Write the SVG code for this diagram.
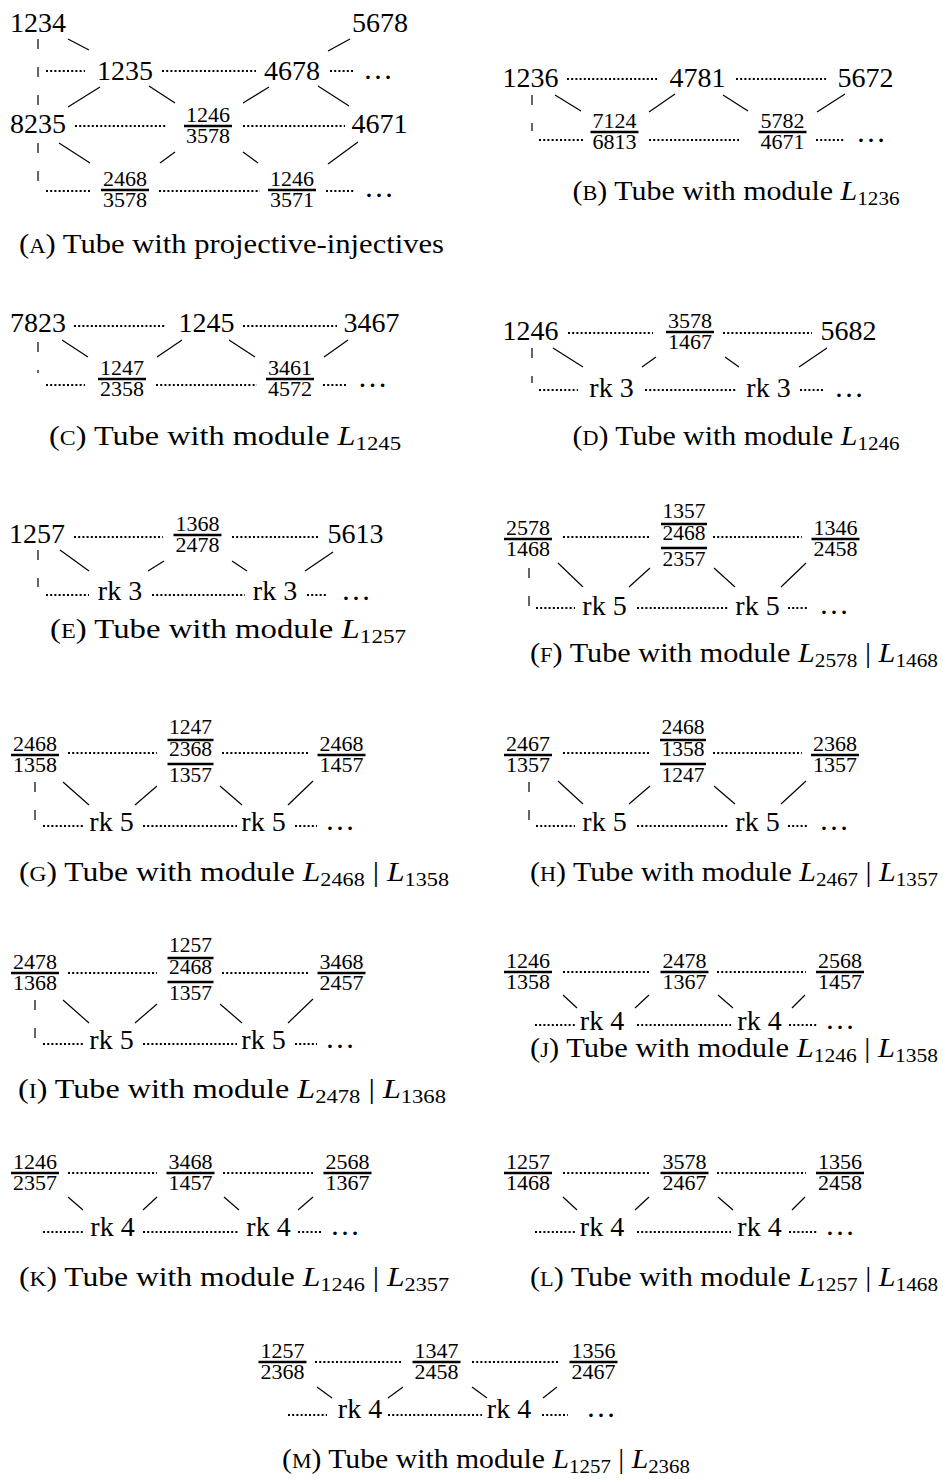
<svg xmlns="http://www.w3.org/2000/svg" width="943" height="1479" viewBox="0 0 943 1479">
<style>
text{font-family:"Liberation Serif","Times New Roman",serif;fill:#000;text-anchor:middle}
.t{font-size:28px}
.f{font-size:20px}
.d{font-size:30px}
.cap{font-size:27px}
.sc{font-size:20px}
.it{font-style:italic}
.sub{font-size:19px}
line{stroke:#000;fill:none}
.bar{stroke-width:2.4}
.dot{stroke-width:2;stroke-dasharray:2 2.2}
.dash{stroke-width:1.2;stroke-dasharray:10 18}
.sol{stroke-width:1.2}
</style>
<rect width="943" height="1479" fill="#fff"/>

<!-- (A) -->
<g id="A">
<g id="A-1234"><text class="t" x="38" y="32">1234</text></g>
<g id="A-5678"><text class="t" x="380" y="32">5678</text></g>
<g id="A-1235"><text class="t" x="125" y="80">1235</text></g>
<g id="A-4678"><text class="t" x="292" y="80">4678</text></g>
<g id="A-dots1"><text class="d" x="378" y="79">…</text></g>
<g id="A-8235"><text class="t" x="38" y="133">8235</text></g>
<g id="A-1246-3578"><text class="f" x="208" y="122" textLength="44" lengthAdjust="spacingAndGlyphs">1246</text><line class="bar" x1="184" y1="126" x2="232" y2="126"/><text class="f" x="208" y="143" textLength="44" lengthAdjust="spacingAndGlyphs">3578</text></g>
<g id="A-4671"><text class="t" x="379.5" y="133">4671</text></g>
<g id="A-2468-3578"><text class="f" x="125" y="186" textLength="44" lengthAdjust="spacingAndGlyphs">2468</text><line class="bar" x1="101" y1="190" x2="149" y2="190"/><text class="f" x="125" y="207" textLength="44" lengthAdjust="spacingAndGlyphs">3578</text></g>
<g id="A-1246-3571"><text class="f" x="292" y="186" textLength="44" lengthAdjust="spacingAndGlyphs">1246</text><line class="bar" x1="268" y1="190" x2="316" y2="190"/><text class="f" x="292" y="207" textLength="44" lengthAdjust="spacingAndGlyphs">3571</text></g>
<g id="A-dots2"><text class="d" x="379" y="197">…</text></g>
<text class="cap" x="231.5" y="253" textLength="425" lengthAdjust="spacingAndGlyphs">(<tspan class="sc">A</tspan>) Tube with projective-injectives</text>
</g>

<!-- (B) -->
<g id="B">
<g id="B-1236"><text class="t" x="530.5" y="87">1236</text></g>
<g id="B-4781"><text class="t" x="697.5" y="87">4781</text></g>
<g id="B-5672"><text class="t" x="865.5" y="87">5672</text></g>
<g id="B-7124-6813"><text class="f" x="614.5" y="128" textLength="44" lengthAdjust="spacingAndGlyphs">7124</text><line class="bar" x1="590.5" y1="132" x2="638.5" y2="132"/><text class="f" x="614.5" y="149" textLength="44" lengthAdjust="spacingAndGlyphs">6813</text></g>
<g id="B-5782-4671"><text class="f" x="782.5" y="128" textLength="44" lengthAdjust="spacingAndGlyphs">5782</text><line class="bar" x1="758.5" y1="132" x2="806.5" y2="132"/><text class="f" x="782.5" y="149" textLength="44" lengthAdjust="spacingAndGlyphs">4671</text></g>
<g id="B-dots"><text class="d" x="871" y="142">…</text></g>
<text class="cap" x="736" y="200" textLength="327" lengthAdjust="spacingAndGlyphs">(<tspan class="sc">B</tspan>) Tube with module <tspan class="it">L</tspan><tspan class="sub" dy="5">1236</tspan></text>
</g>

<!-- (C) -->
<g id="C">
<g id="C-7823"><text class="t" x="38" y="332">7823</text></g>
<g id="C-1245"><text class="t" x="206.5" y="332">1245</text></g>
<g id="C-3467"><text class="t" x="371.5" y="332">3467</text></g>
<g id="C-1247-2358"><text class="f" x="122" y="375" textLength="44" lengthAdjust="spacingAndGlyphs">1247</text><line class="bar" x1="98" y1="379" x2="146" y2="379"/><text class="f" x="122" y="396" textLength="44" lengthAdjust="spacingAndGlyphs">2358</text></g>
<g id="C-3461-4572"><text class="f" x="290" y="375" textLength="44" lengthAdjust="spacingAndGlyphs">3461</text><line class="bar" x1="266" y1="379" x2="314" y2="379"/><text class="f" x="290" y="396" textLength="44" lengthAdjust="spacingAndGlyphs">4572</text></g>
<g id="C-dots"><text class="d" x="372.5" y="387">…</text></g>
<text class="cap" x="225" y="445" textLength="352" lengthAdjust="spacingAndGlyphs">(<tspan class="sc">C</tspan>) Tube with module <tspan class="it">L</tspan><tspan class="sub" dy="5">1245</tspan></text>
</g>

<!-- (D) -->
<g id="D">
<g id="D-1246"><text class="t" x="530.5" y="340">1246</text></g>
<g id="D-3578-1467"><text class="f" x="690" y="328" textLength="44" lengthAdjust="spacingAndGlyphs">3578</text><line class="bar" x1="666" y1="332" x2="714" y2="332"/><text class="f" x="690" y="349" textLength="44" lengthAdjust="spacingAndGlyphs">1467</text></g>
<g id="D-5682"><text class="t" x="848.5" y="340">5682</text></g>
<g id="D-rk3a"><text class="t" x="611.5" y="397">rk 3</text></g>
<g id="D-rk3b"><text class="t" x="768.5" y="397">rk 3</text></g>
<g id="D-dots"><text class="d" x="849" y="397">…</text></g>
<text class="cap" x="736" y="445" textLength="327" lengthAdjust="spacingAndGlyphs">(<tspan class="sc">D</tspan>) Tube with module <tspan class="it">L</tspan><tspan class="sub" dy="5">1246</tspan></text>
</g>

<!-- (E) -->
<g id="E">
<g id="E-1257"><text class="t" x="37" y="543">1257</text></g>
<g id="E-1368-2478"><text class="f" x="197.5" y="531" textLength="44" lengthAdjust="spacingAndGlyphs">1368</text><line class="bar" x1="173.5" y1="535" x2="221.5" y2="535"/><text class="f" x="197.5" y="552" textLength="44" lengthAdjust="spacingAndGlyphs">2478</text></g>
<g id="E-5613"><text class="t" x="355.5" y="543">5613</text></g>
<g id="E-rk3a"><text class="t" x="120" y="600">rk 3</text></g>
<g id="E-rk3b"><text class="t" x="275" y="600">rk 3</text></g>
<g id="E-dots"><text class="d" x="356" y="600">…</text></g>
<text class="cap" x="228" y="638" textLength="356" lengthAdjust="spacingAndGlyphs">(<tspan class="sc">E</tspan>) Tube with module <tspan class="it">L</tspan><tspan class="sub" dy="5">1257</tspan></text>
</g>

<!-- (F) -->
<g id="F">
<g id="F-2578-1468"><text class="f" x="528" y="535" textLength="44" lengthAdjust="spacingAndGlyphs">2578</text><line class="bar" x1="504" y1="539" x2="552" y2="539"/><text class="f" x="528" y="556" textLength="44" lengthAdjust="spacingAndGlyphs">1468</text></g>
<g id="F-1357-2468-2357"><text class="f" x="684" y="518" textLength="43" lengthAdjust="spacingAndGlyphs">1357</text><line class="bar" x1="661" y1="524" x2="707" y2="524"/><text class="f" x="684" y="540" textLength="43" lengthAdjust="spacingAndGlyphs">2468</text><line class="bar" x1="661" y1="548" x2="707" y2="548"/><text class="f" x="684" y="566" textLength="43" lengthAdjust="spacingAndGlyphs">2357</text></g>
<g id="F-1346-2458"><text class="f" x="835.5" y="535" textLength="44" lengthAdjust="spacingAndGlyphs">1346</text><line class="bar" x1="811.5" y1="539" x2="859.5" y2="539"/><text class="f" x="835.5" y="556" textLength="44" lengthAdjust="spacingAndGlyphs">2458</text></g>
<g id="F-rk5a"><text class="t" x="604.5" y="615">rk 5</text></g>
<g id="F-rk5b"><text class="t" x="757.5" y="615">rk 5</text></g>
<g id="F-dots"><text class="d" x="834" y="614">…</text></g>
<text class="cap" x="734" y="662" textLength="408" lengthAdjust="spacingAndGlyphs">(<tspan class="sc">F</tspan>) Tube with module <tspan class="it">L</tspan><tspan class="sub" dy="5">2578</tspan><tspan dy="-5"> | </tspan><tspan class="it">L</tspan><tspan class="sub" dy="5">1468</tspan></text>
</g>

<!-- (G) -->
<g id="G">
<g id="G-2468-1358"><text class="f" x="35" y="751" textLength="44" lengthAdjust="spacingAndGlyphs">2468</text><line class="bar" x1="11" y1="755" x2="59" y2="755"/><text class="f" x="35" y="772" textLength="44" lengthAdjust="spacingAndGlyphs">1358</text></g>
<g id="G-1247-2368-1357"><text class="f" x="190.5" y="734" textLength="43" lengthAdjust="spacingAndGlyphs">1247</text><line class="bar" x1="167.5" y1="740" x2="213.5" y2="740"/><text class="f" x="190.5" y="756" textLength="43" lengthAdjust="spacingAndGlyphs">2368</text><line class="bar" x1="167.5" y1="764" x2="213.5" y2="764"/><text class="f" x="190.5" y="782" textLength="43" lengthAdjust="spacingAndGlyphs">1357</text></g>
<g id="G-2468-1457"><text class="f" x="341.5" y="751" textLength="44" lengthAdjust="spacingAndGlyphs">2468</text><line class="bar" x1="317.5" y1="755" x2="365.5" y2="755"/><text class="f" x="341.5" y="772" textLength="44" lengthAdjust="spacingAndGlyphs">1457</text></g>
<g id="G-rk5a"><text class="t" x="111.5" y="831">rk 5</text></g>
<g id="G-rk5b"><text class="t" x="263.5" y="831">rk 5</text></g>
<g id="G-dots"><text class="d" x="340" y="830">…</text></g>
<text class="cap" x="234" y="881" textLength="430" lengthAdjust="spacingAndGlyphs">(<tspan class="sc">G</tspan>) Tube with module <tspan class="it">L</tspan><tspan class="sub" dy="5">2468</tspan><tspan dy="-5"> | </tspan><tspan class="it">L</tspan><tspan class="sub" dy="5">1358</tspan></text>
</g>

<!-- (H) -->
<g id="H">
<g id="H-2467-1357"><text class="f" x="528" y="751" textLength="44" lengthAdjust="spacingAndGlyphs">2467</text><line class="bar" x1="504" y1="755" x2="552" y2="755"/><text class="f" x="528" y="772" textLength="44" lengthAdjust="spacingAndGlyphs">1357</text></g>
<g id="H-2468-1358-1247"><text class="f" x="683" y="734" textLength="43" lengthAdjust="spacingAndGlyphs">2468</text><line class="bar" x1="660" y1="740" x2="706" y2="740"/><text class="f" x="683" y="756" textLength="43" lengthAdjust="spacingAndGlyphs">1358</text><line class="bar" x1="660" y1="764" x2="706" y2="764"/><text class="f" x="683" y="782" textLength="43" lengthAdjust="spacingAndGlyphs">1247</text></g>
<g id="H-2368-1357"><text class="f" x="835" y="751" textLength="44" lengthAdjust="spacingAndGlyphs">2368</text><line class="bar" x1="811" y1="755" x2="859" y2="755"/><text class="f" x="835" y="772" textLength="44" lengthAdjust="spacingAndGlyphs">1357</text></g>
<g id="H-rk5a"><text class="t" x="604.5" y="831">rk 5</text></g>
<g id="H-rk5b"><text class="t" x="757.5" y="831">rk 5</text></g>
<g id="H-dots"><text class="d" x="834" y="830">…</text></g>
<text class="cap" x="734" y="881" textLength="408" lengthAdjust="spacingAndGlyphs">(<tspan class="sc">H</tspan>) Tube with module <tspan class="it">L</tspan><tspan class="sub" dy="5">2467</tspan><tspan dy="-5"> | </tspan><tspan class="it">L</tspan><tspan class="sub" dy="5">1357</tspan></text>
</g>

<!-- (I) -->
<g id="I">
<g id="I-2478-1368"><text class="f" x="35" y="969" textLength="44" lengthAdjust="spacingAndGlyphs">2478</text><line class="bar" x1="11" y1="973" x2="59" y2="973"/><text class="f" x="35" y="990" textLength="44" lengthAdjust="spacingAndGlyphs">1368</text></g>
<g id="I-1257-2468-1357"><text class="f" x="190.5" y="952" textLength="43" lengthAdjust="spacingAndGlyphs">1257</text><line class="bar" x1="167.5" y1="958" x2="213.5" y2="958"/><text class="f" x="190.5" y="974" textLength="43" lengthAdjust="spacingAndGlyphs">2468</text><line class="bar" x1="167.5" y1="982" x2="213.5" y2="982"/><text class="f" x="190.5" y="1000" textLength="43" lengthAdjust="spacingAndGlyphs">1357</text></g>
<g id="I-3468-2457"><text class="f" x="341.5" y="969" textLength="44" lengthAdjust="spacingAndGlyphs">3468</text><line class="bar" x1="317.5" y1="973" x2="365.5" y2="973"/><text class="f" x="341.5" y="990" textLength="44" lengthAdjust="spacingAndGlyphs">2457</text></g>
<g id="I-rk5a"><text class="t" x="111.5" y="1049">rk 5</text></g>
<g id="I-rk5b"><text class="t" x="263.5" y="1049">rk 5</text></g>
<g id="I-dots"><text class="d" x="340" y="1048">…</text></g>
<text class="cap" x="232" y="1098" textLength="428" lengthAdjust="spacingAndGlyphs">(<tspan class="sc">I</tspan>) Tube with module <tspan class="it">L</tspan><tspan class="sub" dy="5">2478</tspan><tspan dy="-5"> | </tspan><tspan class="it">L</tspan><tspan class="sub" dy="5">1368</tspan></text>
</g>

<!-- (J) -->
<g id="J">
<g id="J-1246-1358"><text class="f" x="528" y="968" textLength="44" lengthAdjust="spacingAndGlyphs">1246</text><line class="bar" x1="504" y1="972" x2="552" y2="972"/><text class="f" x="528" y="989" textLength="44" lengthAdjust="spacingAndGlyphs">1358</text></g>
<g id="J-2478-1367"><text class="f" x="684.5" y="968" textLength="44" lengthAdjust="spacingAndGlyphs">2478</text><line class="bar" x1="660.5" y1="972" x2="708.5" y2="972"/><text class="f" x="684.5" y="989" textLength="44" lengthAdjust="spacingAndGlyphs">1367</text></g>
<g id="J-2568-1457"><text class="f" x="840" y="968" textLength="44" lengthAdjust="spacingAndGlyphs">2568</text><line class="bar" x1="816" y1="972" x2="864" y2="972"/><text class="f" x="840" y="989" textLength="44" lengthAdjust="spacingAndGlyphs">1457</text></g>
<g id="J-rk4a"><text class="t" x="602" y="1030">rk 4</text></g>
<g id="J-rk4b"><text class="t" x="759.5" y="1030">rk 4</text></g>
<g id="J-dots"><text class="d" x="840" y="1029">…</text></g>
<text class="cap" x="734" y="1057" textLength="408" lengthAdjust="spacingAndGlyphs">(<tspan class="sc">J</tspan>) Tube with module <tspan class="it">L</tspan><tspan class="sub" dy="5">1246</tspan><tspan dy="-5"> | </tspan><tspan class="it">L</tspan><tspan class="sub" dy="5">1358</tspan></text>
</g>

<!-- (K) -->
<g id="K">
<g id="K-1246-2357"><text class="f" x="35" y="1169" textLength="44" lengthAdjust="spacingAndGlyphs">1246</text><line class="bar" x1="11" y1="1173" x2="59" y2="1173"/><text class="f" x="35" y="1190" textLength="44" lengthAdjust="spacingAndGlyphs">2357</text></g>
<g id="K-3468-1457"><text class="f" x="190.5" y="1169" textLength="44" lengthAdjust="spacingAndGlyphs">3468</text><line class="bar" x1="166.5" y1="1173" x2="214.5" y2="1173"/><text class="f" x="190.5" y="1190" textLength="44" lengthAdjust="spacingAndGlyphs">1457</text></g>
<g id="K-2568-1367"><text class="f" x="347.5" y="1169" textLength="44" lengthAdjust="spacingAndGlyphs">2568</text><line class="bar" x1="323.5" y1="1173" x2="371.5" y2="1173"/><text class="f" x="347.5" y="1190" textLength="44" lengthAdjust="spacingAndGlyphs">1367</text></g>
<g id="K-rk4a"><text class="t" x="112.5" y="1236">rk 4</text></g>
<g id="K-rk4b"><text class="t" x="268.5" y="1236">rk 4</text></g>
<g id="K-dots"><text class="d" x="345" y="1235">…</text></g>
<text class="cap" x="234" y="1286" textLength="430" lengthAdjust="spacingAndGlyphs">(<tspan class="sc">K</tspan>) Tube with module <tspan class="it">L</tspan><tspan class="sub" dy="5">1246</tspan><tspan dy="-5"> | </tspan><tspan class="it">L</tspan><tspan class="sub" dy="5">2357</tspan></text>
</g>

<!-- (L) -->
<g id="L">
<g id="L-1257-1468"><text class="f" x="528" y="1169" textLength="44" lengthAdjust="spacingAndGlyphs">1257</text><line class="bar" x1="504" y1="1173" x2="552" y2="1173"/><text class="f" x="528" y="1190" textLength="44" lengthAdjust="spacingAndGlyphs">1468</text></g>
<g id="L-3578-2467"><text class="f" x="684.5" y="1169" textLength="44" lengthAdjust="spacingAndGlyphs">3578</text><line class="bar" x1="660.5" y1="1173" x2="708.5" y2="1173"/><text class="f" x="684.5" y="1190" textLength="44" lengthAdjust="spacingAndGlyphs">2467</text></g>
<g id="L-1356-2458"><text class="f" x="840" y="1169" textLength="44" lengthAdjust="spacingAndGlyphs">1356</text><line class="bar" x1="816" y1="1173" x2="864" y2="1173"/><text class="f" x="840" y="1190" textLength="44" lengthAdjust="spacingAndGlyphs">2458</text></g>
<g id="L-rk4a"><text class="t" x="602" y="1236">rk 4</text></g>
<g id="L-rk4b"><text class="t" x="759.5" y="1236">rk 4</text></g>
<g id="L-dots"><text class="d" x="840" y="1235">…</text></g>
<text class="cap" x="734" y="1286" textLength="408" lengthAdjust="spacingAndGlyphs">(<tspan class="sc">L</tspan>) Tube with module <tspan class="it">L</tspan><tspan class="sub" dy="5">1257</tspan><tspan dy="-5"> | </tspan><tspan class="it">L</tspan><tspan class="sub" dy="5">1468</tspan></text>
</g>

<!-- (M) -->
<g id="M">
<g id="M-1257-2368"><text class="f" x="282.5" y="1358" textLength="44" lengthAdjust="spacingAndGlyphs">1257</text><line class="bar" x1="258.5" y1="1362" x2="306.5" y2="1362"/><text class="f" x="282.5" y="1379" textLength="44" lengthAdjust="spacingAndGlyphs">2368</text></g>
<g id="M-1347-2458"><text class="f" x="436.5" y="1358" textLength="44" lengthAdjust="spacingAndGlyphs">1347</text><line class="bar" x1="412.5" y1="1362" x2="460.5" y2="1362"/><text class="f" x="436.5" y="1379" textLength="44" lengthAdjust="spacingAndGlyphs">2458</text></g>
<g id="M-1356-2467"><text class="f" x="593.5" y="1358" textLength="44" lengthAdjust="spacingAndGlyphs">1356</text><line class="bar" x1="569.5" y1="1362" x2="617.5" y2="1362"/><text class="f" x="593.5" y="1379" textLength="44" lengthAdjust="spacingAndGlyphs">2467</text></g>
<g id="M-rk4a"><text class="t" x="360" y="1418">rk 4</text></g>
<g id="M-rk4b"><text class="t" x="509" y="1418">rk 4</text></g>
<g id="M-dots"><text class="d" x="601" y="1417">…</text></g>
<text class="cap" x="486" y="1468" textLength="408" lengthAdjust="spacingAndGlyphs">(<tspan class="sc">M</tspan>) Tube with module <tspan class="it">L</tspan><tspan class="sub" dy="5">1257</tspan><tspan dy="-5"> | </tspan><tspan class="it">L</tspan><tspan class="sub" dy="5">2368</tspan></text>
</g>

<!-- connectors -->
<g id="connectors">
<!-- A -->
<line class="dot" x1="46" y1="71" x2="85" y2="71"/><line class="dot" x1="162" y1="71" x2="256" y2="71"/><line class="dot" x1="330" y1="71" x2="355" y2="71"/>
<line class="dot" x1="75" y1="126" x2="167" y2="126"/><line class="dot" x1="243" y1="126" x2="345" y2="126"/>
<line class="dot" x1="46" y1="191" x2="92" y2="191"/><line class="dot" x1="159" y1="191" x2="260" y2="191"/><line class="dot" x1="326" y1="191" x2="355" y2="191"/>
<line class="dash" x1="38" y1="39" x2="38" y2="107"/><line class="dash" x1="38" y1="143" x2="38" y2="186"/>
<line class="sol" x1="68" y1="39" x2="89" y2="50"/><line class="sol" x1="350" y1="39" x2="328" y2="51"/>
<line class="sol" x1="100" y1="87" x2="68" y2="107"/><line class="sol" x1="149" y1="86" x2="175" y2="103"/>
<line class="sol" x1="269" y1="87" x2="243" y2="103"/><line class="sol" x1="318" y1="86" x2="349" y2="106"/>
<line class="sol" x1="59" y1="143" x2="90" y2="163"/><line class="sol" x1="175" y1="152" x2="160" y2="163"/>
<line class="sol" x1="243" y1="152" x2="258" y2="163"/><line class="sol" x1="358" y1="142" x2="328" y2="164"/>
<!-- B -->
<line class="dot" x1="567" y1="79" x2="657" y2="79"/><line class="dot" x1="736" y1="79" x2="826" y2="79"/>
<line class="dot" x1="539" y1="140" x2="583" y2="140"/><line class="dot" x1="649" y1="140" x2="739" y2="140"/><line class="dot" x1="816" y1="140" x2="845" y2="140"/>
<line class="dash" x1="532" y1="95" x2="532" y2="131"/>
<line class="sol" x1="555" y1="95" x2="581" y2="111"/><line class="sol" x1="675" y1="94" x2="649" y2="112"/>
<line class="sol" x1="723" y1="95" x2="748" y2="111"/><line class="sol" x1="845" y1="94" x2="817" y2="112"/>
<!-- C -->
<line class="dot" x1="74" y1="326" x2="165" y2="326"/><line class="dot" x1="243" y1="326" x2="337" y2="326"/>
<line class="dot" x1="46" y1="385" x2="85" y2="385"/><line class="dot" x1="156" y1="385" x2="257" y2="385"/><line class="dot" x1="323" y1="385" x2="347" y2="385"/>
<line class="dash" x1="38" y1="342" x2="38" y2="373"/>
<line class="sol" x1="62" y1="340" x2="88" y2="357"/><line class="sol" x1="182" y1="340" x2="157" y2="357"/>
<line class="sol" x1="229" y1="340" x2="255" y2="357"/><line class="sol" x1="348" y1="340" x2="324" y2="357"/>
<!-- D -->
<line class="dot" x1="568" y1="333" x2="653" y2="333"/><line class="dot" x1="723" y1="333" x2="812" y2="333"/>
<line class="dot" x1="539" y1="390" x2="578" y2="390"/><line class="dot" x1="645" y1="390" x2="737" y2="390"/><line class="dot" x1="800" y1="390" x2="825" y2="390"/>
<line class="dash" x1="532" y1="348" x2="532" y2="383"/>
<line class="sol" x1="553" y1="348" x2="583" y2="367"/><line class="sol" x1="656" y1="357" x2="642" y2="367"/>
<line class="sol" x1="725" y1="357" x2="739" y2="367"/><line class="sol" x1="827" y1="348" x2="799" y2="367"/>
<!-- E -->
<line class="dot" x1="74" y1="537" x2="163" y2="537"/><line class="dot" x1="232" y1="537" x2="318" y2="537"/>
<line class="dot" x1="46" y1="595" x2="89" y2="595"/><line class="dot" x1="152" y1="595" x2="245" y2="595"/><line class="dot" x1="307" y1="595" x2="328" y2="595"/>
<line class="dash" x1="38" y1="550" x2="38" y2="587"/>
<line class="sol" x1="60" y1="550" x2="89" y2="571"/><line class="sol" x1="164" y1="561" x2="148" y2="571"/>
<line class="sol" x1="232" y1="561" x2="247" y2="571"/><line class="sol" x1="333" y1="552" x2="305" y2="571"/>
<!-- F -->
<line class="dot" x1="563" y1="537" x2="649" y2="537"/><line class="dot" x1="713" y1="537" x2="802" y2="537"/>
<line class="dot" x1="536" y1="608" x2="575" y2="608"/><line class="dot" x1="637" y1="608" x2="728" y2="608"/><line class="dot" x1="788" y1="608" x2="808" y2="608"/>
<line class="dash" x1="529" y1="568" x2="529" y2="606"/>
<line class="sol" x1="558" y1="563" x2="583" y2="587"/><line class="sol" x1="650" y1="568" x2="629" y2="587"/>
<line class="sol" x1="714" y1="568" x2="735" y2="587"/><line class="sol" x1="806" y1="563" x2="781" y2="587"/>
<!-- G -->
<line class="dot" x1="68" y1="753" x2="157" y2="753"/><line class="dot" x1="222" y1="753" x2="310" y2="753"/>
<line class="dot" x1="43" y1="826" x2="85" y2="826"/><line class="dot" x1="143" y1="826" x2="237" y2="826"/><line class="dot" x1="295" y1="826" x2="317" y2="826"/>
<line class="dash" x1="35" y1="782" x2="35" y2="823"/>
<line class="sol" x1="63" y1="782" x2="89" y2="805"/><line class="sol" x1="157" y1="786" x2="135" y2="805"/>
<line class="sol" x1="220" y1="786" x2="242" y2="805"/><line class="sol" x1="313" y1="781" x2="288" y2="805"/>
<!-- H -->
<line class="dot" x1="563" y1="753" x2="649" y2="753"/><line class="dot" x1="713" y1="753" x2="802" y2="753"/>
<line class="dot" x1="536" y1="826" x2="575" y2="826"/><line class="dot" x1="637" y1="826" x2="728" y2="826"/><line class="dot" x1="788" y1="826" x2="808" y2="826"/>
<line class="dash" x1="529" y1="782" x2="529" y2="824"/>
<line class="sol" x1="558" y1="781" x2="583" y2="804"/><line class="sol" x1="650" y1="786" x2="629" y2="804"/>
<line class="sol" x1="714" y1="786" x2="735" y2="804"/><line class="sol" x1="806" y1="781" x2="781" y2="804"/>
<!-- I -->
<line class="dot" x1="68" y1="973" x2="157" y2="973"/><line class="dot" x1="222" y1="973" x2="310" y2="973"/>
<line class="dot" x1="43" y1="1044" x2="85" y2="1044"/><line class="dot" x1="143" y1="1044" x2="237" y2="1044"/><line class="dot" x1="295" y1="1044" x2="317" y2="1044"/>
<line class="dash" x1="35" y1="1000" x2="35" y2="1042"/>
<line class="sol" x1="63" y1="1000" x2="89" y2="1023"/><line class="sol" x1="157" y1="1004" x2="135" y2="1023"/>
<line class="sol" x1="220" y1="1004" x2="242" y2="1023"/><line class="sol" x1="313" y1="999" x2="288" y2="1023"/>
<!-- J -->
<line class="dot" x1="563" y1="972" x2="649" y2="972"/><line class="dot" x1="717" y1="972" x2="806" y2="972"/>
<line class="dot" x1="535" y1="1025" x2="575" y2="1025"/><line class="dot" x1="637" y1="1025" x2="731" y2="1025"/><line class="dot" x1="789" y1="1025" x2="817" y2="1025"/>
<line class="sol" x1="563" y1="995" x2="577" y2="1008"/><line class="sol" x1="649" y1="995" x2="635" y2="1008"/>
<line class="sol" x1="718" y1="995" x2="733" y2="1008"/><line class="sol" x1="805" y1="995" x2="792" y2="1008"/>
<!-- K -->
<line class="dot" x1="68" y1="1173" x2="157" y2="1173"/><line class="dot" x1="223" y1="1173" x2="313" y2="1173"/>
<line class="dot" x1="43" y1="1232" x2="85" y2="1232"/><line class="dot" x1="143" y1="1232" x2="238" y2="1232"/><line class="dot" x1="298" y1="1232" x2="323" y2="1232"/>
<line class="sol" x1="68" y1="1197" x2="83" y2="1210"/><line class="sol" x1="157" y1="1197" x2="143" y2="1210"/>
<line class="sol" x1="224" y1="1197" x2="239" y2="1210"/><line class="sol" x1="313" y1="1197" x2="298" y2="1210"/>
<!-- L -->
<line class="dot" x1="563" y1="1173" x2="649" y2="1173"/><line class="dot" x1="717" y1="1173" x2="806" y2="1173"/>
<line class="dot" x1="535" y1="1232" x2="575" y2="1232"/><line class="dot" x1="637" y1="1232" x2="731" y2="1232"/><line class="dot" x1="789" y1="1232" x2="817" y2="1232"/>
<line class="sol" x1="563" y1="1197" x2="577" y2="1210"/><line class="sol" x1="649" y1="1197" x2="635" y2="1210"/>
<line class="sol" x1="718" y1="1197" x2="733" y2="1210"/><line class="sol" x1="805" y1="1197" x2="792" y2="1210"/>
<!-- M -->
<line class="dot" x1="315" y1="1362" x2="402" y2="1362"/><line class="dot" x1="472" y1="1362" x2="560" y2="1362"/>
<line class="dot" x1="288" y1="1415" x2="327" y2="1415"/><line class="dot" x1="388" y1="1415" x2="482" y2="1415"/><line class="dot" x1="542" y1="1415" x2="568" y2="1415"/>
<line class="sol" x1="317" y1="1387" x2="332" y2="1398"/><line class="sol" x1="403" y1="1387" x2="388" y2="1398"/>
<line class="sol" x1="472" y1="1387" x2="487" y2="1398"/><line class="sol" x1="557" y1="1387" x2="543" y2="1398"/>
</g>
</svg>
